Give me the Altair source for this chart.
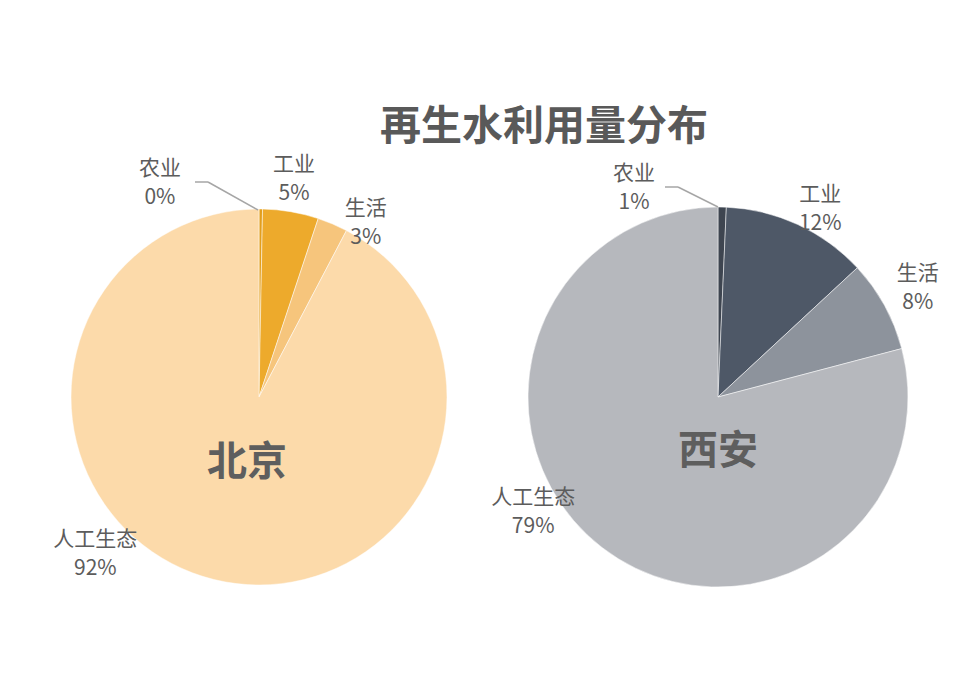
import altair as alt
import pandas as pd

# ---- data ----
cities = ["北京", "西安"]
categories = ["农业", "工业", "生活", "人工生态"]
beijing_values = [0.3, 4.8, 2.6, 92.3]
xian_values = [0.7, 12.4, 7.8, 79.1]
beijing_labels = ["0%", "5%", "3%", "92%"]
xian_labels = ["1%", "12%", "8%", "79%"]
title_text = "再生水利用量分布"

# ---- style / layout ----
beijing_colors = ["#E39E1C", "#EDAA2C", "#F6C57C", "#FCDAAA"]
xian_colors = ["#3E4550", "#4E5867", "#8D939C", "#B6B8BD"]
CENTER = {"北京": (259, 397), "西安": (718, 397)}
RADIUS = {"北京": 188, "西安": 190}
# label placement in polar terms (degrees clockwise from 12 o'clock, pixel radius)
LABEL_ANGLE = {"北京": [335.3, 9.1, 31.4, 226.4], "西安": [338.2, 28.4, 61.2, 238.4]}
LABEL_RADIUS = {"北京": [237, 222, 205, 226], "西安": [226, 215, 228, 217]}
FONT = "Noto Sans CJK SC"
TXT = "#5c5c5c"

rows = []
for city, vals, labs, cols in [
    ("北京", beijing_values, beijing_labels, beijing_colors),
    ("西安", xian_values, xian_labels, xian_colors),
]:
    for i, cat in enumerate(categories):
        rows.append({
            "city": city, "category": cat, "value": vals[i], "order": i,
            "color": cols[i], "label": cat + "\n" + labs[i],
            "lab_theta": LABEL_ANGLE[city][i] * 3.141592653589793 / 180,
            "lab_r": LABEL_RADIUS[city][i],
        })
df = pd.DataFrame(rows)

layers = []
for city in cities:
    cx, cy = CENTER[city]
    base = alt.Chart(df).transform_filter(alt.datum.city == city)
    pie = base.mark_arc(radius=RADIUS[city], stroke="#ffffff", strokeWidth=0.5).encode(
        theta=alt.Theta("value:Q", stack=True),
        color=alt.Color("color:N", scale=None),
        order=alt.Order("order:Q"),
        x=alt.value(cx), y=alt.value(cy),
    )
    labels = base.mark_text(font=FONT, fontSize=21, color=TXT, lineHeight=29, lineBreak="\n",
                            align="center", baseline="middle", dy=-13).encode(
        theta=alt.Theta("lab_theta:Q", scale=None, stack=None),
        radius=alt.Radius("lab_r:Q", scale=None),
        text="label:N",
        x=alt.value(cx), y=alt.value(cy),
    )
    layers += [pie, labels]

dummy = alt.Chart(pd.DataFrame({"a": [0]}))
leaders = [
    dummy.mark_rule(color="#a6a6a6", strokeWidth=1.5).encode(x=alt.value(195), x2=alt.value(208), y=alt.value(182), y2=alt.value(182)),
    dummy.mark_rule(color="#a6a6a6", strokeWidth=1.5).encode(x=alt.value(208), x2=alt.value(258), y=alt.value(182), y2=alt.value(210)),
    dummy.mark_rule(color="#a6a6a6", strokeWidth=1.5).encode(x=alt.value(665), x2=alt.value(678), y=alt.value(187), y2=alt.value(187)),
    dummy.mark_rule(color="#a6a6a6", strokeWidth=1.5).encode(x=alt.value(678), x2=alt.value(718), y=alt.value(187), y2=alt.value(207)),
]

city_df = pd.DataFrame({"city": cities})
city_text = []
for city, (tx, ty) in zip(cities, [(247, 463), (718, 452)]):
    city_text.append(
        alt.Chart(city_df).transform_filter(alt.datum.city == city).mark_text(
            font=FONT, fontSize=40, fontWeight="bold", color="#5e5e5e",
            align="center", baseline="middle").encode(text="city:N", x=alt.value(tx), y=alt.value(ty))
    )

title = alt.Chart(pd.DataFrame({"t": [title_text]})).mark_text(
    font=FONT, fontSize=41, fontWeight="bold", color="#595959", align="center", baseline="middle"
).encode(text="t:N", x=alt.value(544), y=alt.value(128))

chart = alt.layer(*layers, *leaders, *city_text, title).resolve_scale(theta="independent").properties(
    width=957, height=675, padding=0, autosize=alt.AutoSizeParams(type="none"),
    background="#ffffff",
).configure_view(stroke=None)

chart.save("out.html", embed_options={"renderer": "svg", "actions": False})
